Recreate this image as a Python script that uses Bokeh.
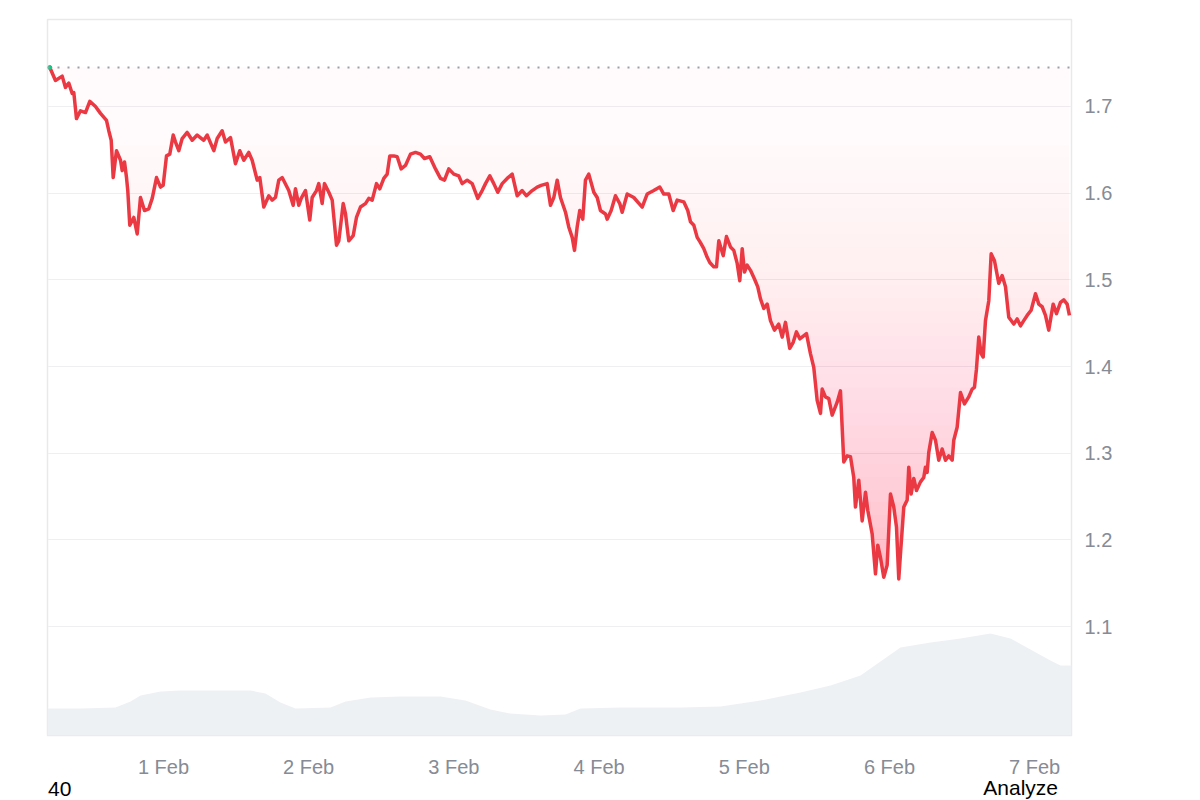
import numpy as np
import pandas as pd
from bokeh.plotting import figure
from bokeh.layouts import column
from bokeh.models import Range1d, FixedTicker, Span, Div
from bokeh.embed import file_html
from bokeh.resources import INLINE

START = pd.Timestamp("2025-01-31 00:00")

# price series: hours since 31 Jan 00:00, price
price_hours = [
    5.21, 6.15, 7.26, 7.80, 8.35, 8.91, 9.18, 9.62, 10.28, 11.11, 11.82, 12.76, 13.59, 14.58, 14.96, 15.36, 15.69,
    16.23, 16.90, 17.18, 17.56, 17.89, 18.10, 18.43, 19.09, 19.66, 20.20, 20.86, 21.57, 22.14, 22.85, 23.51, 23.95,
    24.50, 25.04, 25.61, 25.99, 26.53, 27.09, 27.92, 28.75, 29.57, 30.66, 31.23, 32.32, 32.88, 33.70, 34.25, 35.08,
    35.90, 36.61,
    37.28, 38.10, 38.66, 39.49, 39.92, 40.58, 41.41, 41.97, 42.51, 43.06, 43.62, 44.71, 45.44, 45.82, 46.37, 46.76,
    47.47, 48.18, 48.58, 49.29, 49.67, 50.23, 50.61, 51.33, 51.89, 52.60, 52.98, 53.71, 54.09, 54.63, 55.36, 55.90,
    56.56, 57.39, 57.94, 58.50, 59.21, 59.75, 60.42, 60.98, 61.41, 62.07, 62.63, 63.29, 64.00, 64.83, 65.66, 66.48,
    67.14, 68.02,
    68.96, 69.79, 70.45, 71.16, 71.99, 72.81, 73.37, 74.20, 75.03, 75.95, 76.68, 77.23, 77.94, 78.60, 79.26, 79.99,
    80.81, 81.64, 82.47, 83.29, 84.00, 84.95, 85.77, 86.43, 87.42, 87.97, 88.52, 89.08, 89.62, 90.45, 90.99, 91.56,
    91.94, 92.38, 92.81, 93.31, 93.75, 94.30, 95.13, 95.69, 96.23, 97.06, 97.34, 98.00, 98.71, 99.42,
    99.82, 100.65, 101.74, 103.13, 103.95, 105.04, 106.04, 106.70, 107.52, 108.25, 108.91, 110.00, 110.66, 111.11,
    111.66, 112.22, 112.76, 113.31, 113.87, 114.30, 114.96, 115.41, 115.79, 116.52, 117.06, 117.72, 118.27, 118.83,
    119.26, 119.66, 120.04, 120.48, 121.03, 121.69, 122.23, 122.68, 123.23, 123.79, 124.33, 124.99, 125.70, 126.27,
    126.81, 127.52, 128.09, 128.63, 129.18,
    130.28, 130.94, 131.49, 132.05, 132.60, 132.88, 133.42, 133.97, 134.53, 135.36, 135.90, 136.45, 137.01, 137.56,
    138.10, 138.38, 138.93, 139.49, 140.04, 140.42, 141.14, 141.69, 142.07, 142.51, 143.06, 143.62, 144.17, 144.71,
    145.16, 145.54, 145.82, 146.37, 146.93, 147.19, 147.59, 148.02, 148.47, 149.13, 149.67, 149.95, 150.23, 150.50,
    151.06, 151.61, 152.15,
    152.71, 153.26, 153.80, 154.37, 154.63, 155.19, 155.74, 156.40, 157.11, 157.67, 158.05, 158.38, 158.76, 159.16,
    159.49, 159.87, 160.42, 160.81, 161.36, 162.07, 162.63, 163.18, 163.72, 164.55, 165.11, 165.66, 166.20, 166.76,
    167.42, 168.14, 168.68, 169.24, 169.79, 170.33, 171.06, 171.61, 172.27, 172.81, 173.37, 173.75,
]
prices = [
    1.745, 1.730, 1.735, 1.722, 1.727, 1.715, 1.716, 1.686, 1.695, 1.693, 1.706, 1.700, 1.692, 1.684, 1.672, 1.661,
    1.618, 1.649, 1.638, 1.626, 1.636, 1.618, 1.603, 1.563, 1.572, 1.553, 1.595, 1.580, 1.582, 1.594, 1.618, 1.607,
    1.609, 1.643, 1.645, 1.667, 1.659, 1.649, 1.663, 1.670, 1.661, 1.667, 1.661, 1.667, 1.649, 1.663, 1.672, 1.659,
    1.664, 1.634, 1.649,
    1.638, 1.647, 1.638, 1.615, 1.618, 1.584, 1.597, 1.592, 1.595, 1.615, 1.618, 1.603, 1.586, 1.605, 1.586, 1.594,
    1.603, 1.569, 1.595, 1.603, 1.611, 1.588, 1.611, 1.601, 1.592, 1.540, 1.545, 1.588, 1.576, 1.545, 1.551, 1.572,
    1.584, 1.588, 1.594, 1.592, 1.611, 1.605, 1.617, 1.622, 1.643, 1.643, 1.642, 1.628, 1.632, 1.645, 1.647, 1.645,
    1.640, 1.642,
    1.628, 1.617, 1.615, 1.628, 1.622, 1.620, 1.611, 1.615, 1.611, 1.594, 1.603, 1.611, 1.620, 1.611, 1.601, 1.611,
    1.617, 1.622, 1.597, 1.603, 1.597, 1.603, 1.607, 1.609, 1.611, 1.586, 1.595, 1.615, 1.595, 1.578, 1.561, 1.549,
    1.534, 1.561, 1.580, 1.570, 1.615, 1.622, 1.601, 1.595, 1.580, 1.576, 1.570, 1.580, 1.597, 1.588,
    1.578, 1.599, 1.595, 1.584, 1.599, 1.603, 1.607, 1.599, 1.599, 1.580, 1.592, 1.590, 1.580, 1.567, 1.563, 1.549,
    1.543, 1.536, 1.526, 1.520, 1.515, 1.515, 1.545, 1.528, 1.550, 1.538, 1.534, 1.519, 1.499, 1.536, 1.509, 1.517,
    1.511, 1.501, 1.492, 1.478, 1.467, 1.472, 1.453, 1.442, 1.449, 1.434, 1.451, 1.421, 1.428, 1.440, 1.432,
    1.438, 1.415, 1.399, 1.361, 1.346, 1.374, 1.365, 1.363, 1.344, 1.359, 1.372, 1.290, 1.297, 1.296, 1.272, 1.238,
    1.269, 1.222, 1.255, 1.234, 1.207, 1.161, 1.194, 1.180, 1.157, 1.171, 1.253, 1.238, 1.215, 1.155, 1.184, 1.238,
    1.246, 1.284, 1.253, 1.271, 1.257, 1.267, 1.272, 1.284, 1.278, 1.301, 1.324, 1.315, 1.292,
    1.305, 1.292, 1.297, 1.292, 1.315, 1.330, 1.370, 1.357, 1.365, 1.374, 1.376, 1.397, 1.434, 1.415, 1.411, 1.453,
    1.476, 1.530, 1.522, 1.496, 1.505, 1.492, 1.457, 1.449, 1.455, 1.447, 1.453, 1.459, 1.465, 1.484, 1.472, 1.469,
    1.459, 1.442, 1.472, 1.461, 1.474, 1.477, 1.472, 1.459,
]

# traded volume (arbitrary units, millions)
volume_hours = [4.83, 10.28, 16.07, 18.55, 20.20, 23.51, 26.81, 38.38, 40.86, 43.34, 45.82, 51.61, 54.09, 58.22,
                63.18, 69.79, 73.92, 78.05, 81.36, 86.32, 90.45, 92.93, 99.54, 109.46, 116.07, 122.68, 129.29,
                134.25, 139.21, 142.51, 145.82, 150.78, 155.74, 160.70, 164.00, 167.31, 170.62, 172.27, 174.09]
volume_m = [27, 27, 28, 34, 40, 44, 45, 45, 42, 33, 27, 28, 34, 38, 39, 39, 35, 26, 22, 20, 21, 27, 28, 28, 29,
            35, 43, 50, 60, 74, 88, 93, 97, 102, 97, 86, 75, 70, 70]

y_ticks = [1.1, 1.2, 1.3, 1.4, 1.5, 1.6, 1.7]
x_tick_days = ["2025-02-01", "2025-02-02", "2025-02-03", "2025-02-04", "2025-02-05", "2025-02-06", "2025-02-07"]
x_tick_labels = ["1 Feb", "2 Feb", "3 Feb", "4 Feb", "5 Feb", "6 Feb", "7 Feb"]
footer_left = "40"
footer_right = "Analyze"

assert len(price_hours) == len(prices)
assert len(volume_hours) == len(volume_m)


def to_ms(ts):
    return float(ts.value / 1e6)


t = START + pd.to_timedelta(price_hours, unit="h")
tv = START + pd.to_timedelta(volume_hours, unit="h")
pr = np.array(prices)

x_start = to_ms(START + pd.Timedelta(hours=4.83))
x_end = to_ms(START + pd.Timedelta(hours=174.09))
y_start, y_end = 0.9745, 1.8003

RED = "#ea3943"
GRAY_TXT = "#868b95"
FONT = "Liberation Sans"

p = figure(width=1192, height=780, output_backend="svg", toolbar_location=None,
           x_axis_type="datetime", y_axis_location="right",
           x_range=Range1d(x_start, x_end), y_range=Range1d(y_start, y_end),
           min_border_left=47, min_border_top=19, min_border_right=121, min_border_bottom=45)
p.outline_line_color = "#e9e9ec"
p.outline_line_width = 1.5
p.background_fill_color = "white"
p.border_fill_color = "white"

# volume on its own hidden scale
p.extra_y_ranges = {"vol": Range1d(0, max(volume_m) / 0.1425)}
p.varea(x=tv, y1=0, y2=volume_m, fill_color="#eef1f4", y_range_name="vol")

# gradient fill between baseline and price (stacked translucent layers)
base = float(pr[0])
lo = float(pr.min())
n = 40
levels = np.linspace(base, lo, n + 1)[:-1]


def target_alpha(f):
    return 0.025 + 0.26 * f ** 2


prev = 0.0
for k, lev in enumerate(levels):
    A = target_alpha((k + 1.0) / n)
    a = 1 - (1 - A) / (1 - prev)
    prev = A
    p.varea(x=t, y1=np.minimum(pr, lev), y2=float(lev), fill_color=RED, fill_alpha=float(max(a, 0.0)))

# baseline
p.add_layout(Span(location=base, dimension="width", line_color="#9c9fa6", line_dash="2 8", line_width=2))

# price line
p.line(t, pr, line_color=RED, line_width=3.5, line_join="round")
p.scatter([t[0]], [pr[0]], size=4, color="#16c784")

# axes
p.xgrid.visible = False
p.ygrid.grid_line_color = "#efeff2"
p.ygrid.grid_line_width = 1

xa = p.xaxis[0]
xa.ticker = FixedTicker(ticks=[to_ms(pd.Timestamp(d)) for d in x_tick_days])
xa.major_label_overrides = {to_ms(pd.Timestamp(d)): lab for d, lab in zip(x_tick_days, x_tick_labels)}
xa.axis_line_color = None
xa.major_tick_line_color = None
xa.minor_tick_line_color = None
xa.major_label_standoff = 14
xa.major_label_text_font = FONT
xa.major_label_text_font_size = "20px"
xa.major_label_text_color = GRAY_TXT

ya = p.yaxis[0]
ya.ticker = FixedTicker(ticks=y_ticks)
ya.axis_line_color = None
ya.major_tick_line_color = None
ya.minor_tick_line_color = None
ya.major_label_standoff = 7
ya.major_label_text_font = FONT
ya.major_label_text_font_size = "20px"
ya.major_label_text_color = GRAY_TXT

footer = Div(
    width=1192, height=20,
    text=(
        '<div style="position:relative;width:1192px;height:20px;overflow:visible;'
        'font-family:\'Liberation Sans\',Arial,sans-serif;font-size:21px;color:#000;line-height:1;">'
        f'<span style="position:absolute;left:48px;top:-2px;">{footer_left}</span>'
        f'<span style="position:absolute;right:134px;top:-3px;">{footer_right}</span>'
        '</div>'
    ),
    styles={"margin": "0", "padding": "0", "overflow": "visible"},
)

layout = column(p, footer, spacing=0)

open("out.html", "w").write(file_html(layout, INLINE))
